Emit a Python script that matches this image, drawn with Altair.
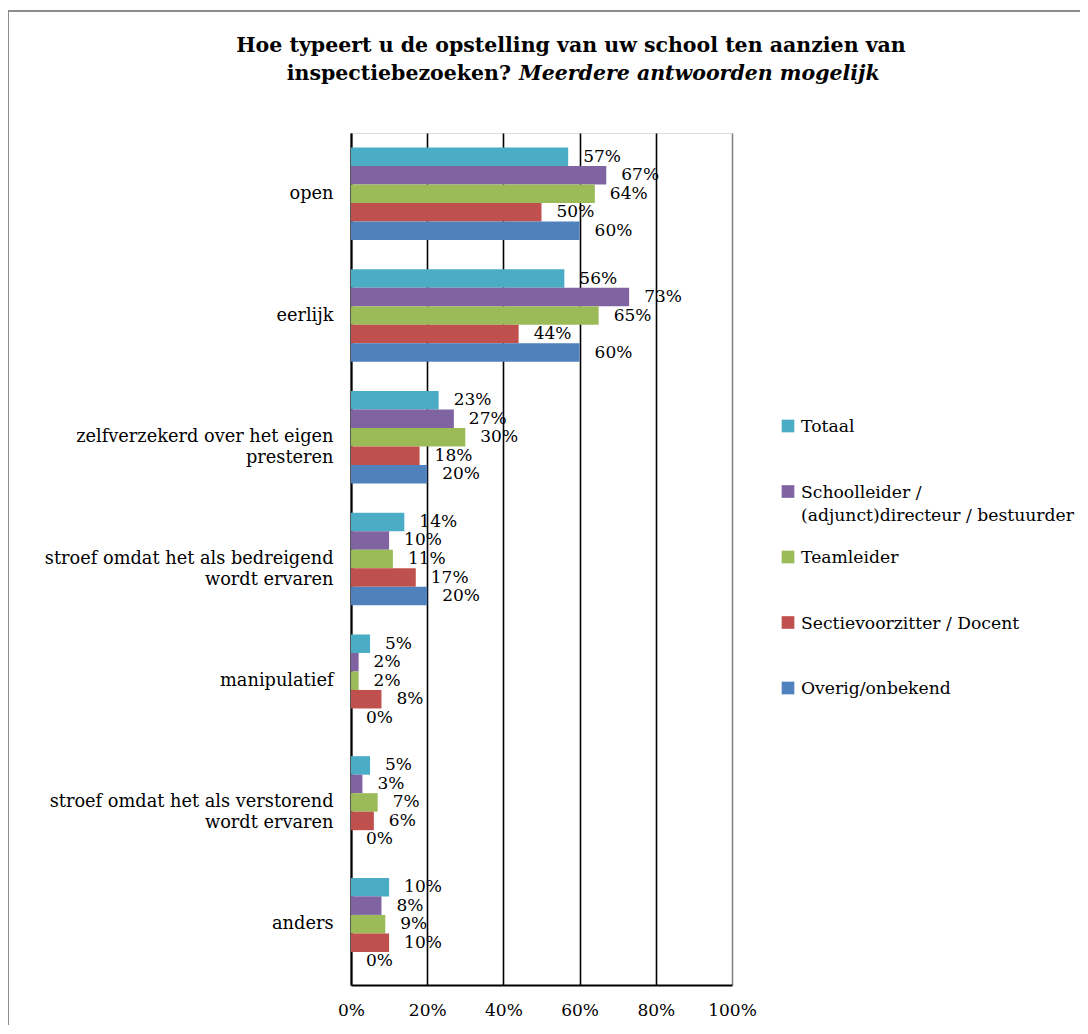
import altair as alt
import pandas as pd

categories = [
    "open",
    "eerlijk",
    "zelfverzekerd over het eigen|presteren",
    "stroef omdat het als bedreigend|wordt ervaren",
    "manipulatief",
    "stroef omdat het als verstorend|wordt ervaren",
    "anders",
]
series = [
    "Totaal",
    "Schoolleider /|(adjunct)directeur / bestuurder",
    "Teamleider",
    "Sectievoorzitter / Docent",
    "Overig/onbekend",
]
colors = ["#4BACC6", "#8064A2", "#9BBB59", "#C0504D", "#4F81BD"]

totaal = [57, 56, 23, 14, 5, 5, 10]
schoolleider = [67, 73, 27, 10, 2, 3, 8]
teamleider = [64, 65, 30, 11, 2, 7, 9]
sectie = [50, 44, 18, 17, 8, 6, 10]
overig = [60, 60, 20, 20, 0, 0, 0]
series_values = [totaal, schoolleider, teamleider, sectie, overig]

x_ticks = [0, 20, 40, 60, 80, 100]

title_line1 = "Hoe typeert u de opstelling van uw school ten aanzien van"
title_line2_bold = "inspectiebezoeken?"
title_line2_italic = "Meerdere antwoorden mogelijk"

rows = []
for s, vals in zip(series, series_values):
    for c, v in zip(categories, vals):
        rows.append({"category": c, "series": s, "value": v, "label": f"{v}%"})
df = pd.DataFrame(rows)
legend_df = pd.DataFrame({"series": series})

FONT = "DejaVu Serif"

base = alt.Chart(df).encode(
    y=alt.Y(
        "category:N",
        sort=categories,
        scale=alt.Scale(paddingInner=0.24, paddingOuter=0.12),
        axis=alt.Axis(
            title=None,
            ticks=False,
            labelExpr="split(datum.label, '|')",
            labelFont=FONT,
            labelFontSize=17.75,
            labelColor="black",
            labelPadding=18,
            labelLimit=400,
            labelLineHeight=21,
            domainColor="black",
            domainWidth=2,
            grid=False,
        ),
    ),
    yOffset=alt.YOffset("series:N", sort=series),
)

color_scale = alt.Scale(domain=series, range=colors)

bars = base.mark_bar().encode(
    x=alt.X(
        "value:Q",
        scale=alt.Scale(domain=[0, 100]),
        axis=alt.Axis(
            title=None,
            values=x_ticks,
            labelExpr="datum.value + '%'",
            labelFont=FONT,
            labelFontSize=17,
            labelColor="black",
            labelPadding=17,
            labelFlush=False,
            ticks=False,
            domainColor="black",
            domainWidth=2,
            grid=True,
            gridColor={"condition": {"test": "datum.value === 100", "value": "#868686"}, "value": "black"},
            gridWidth=1.6,
        ),
    ),
    color=alt.Color("series:N", sort=series, scale=color_scale, legend=None),
)

labels = base.mark_text(align="left", baseline="middle", dx=15, font=FONT, fontSize=17, color="black").encode(
    x=alt.X("value:Q"),
    text=alt.Text("label:N"),
)

main = alt.layer(bars, labels)

# legend drawn as marks
leg_y = alt.Y(
    "series:N",
    sort=series,
    scale=alt.Scale(type="point", domain=series, range=[293, 555], padding=0),
    axis=None,
)
leg_sym = alt.Chart(legend_df).mark_square(size=160, opacity=1).encode(
    x=alt.value(437),
    y=leg_y,
    color=alt.Color("series:N", sort=series, scale=color_scale, legend=None),
)
leg_txt = (
    alt.Chart(legend_df)
    .transform_calculate(lines="split(datum.series, '|')")
    .mark_text(align="left", baseline="alphabetic", dy=6, font=FONT, fontSize=17.2, color="black", lineHeight=23)
    .encode(x=alt.value(450), y=leg_y, text=alt.Text("lines:N"))
)
legend = alt.layer(leg_sym, leg_txt)

# title drawn as marks (mixed bold / bold-italic)
TITLE_SIZE = 20.5
title_df = pd.DataFrame({"t1": [title_line1], "t2": [title_line2_bold], "t3": [title_line2_italic]})
t1 = alt.Chart(title_df).mark_text(
    align="center", baseline="alphabetic", font=FONT, fontSize=TITLE_SIZE, fontWeight="bold", color="black"
).encode(x=alt.value(220), y=alt.value(-81), text="t1:N")
t2 = alt.Chart(title_df).mark_text(
    align="right", baseline="alphabetic", font=FONT, fontSize=TITLE_SIZE, fontWeight="bold", color="black"
).encode(x=alt.value(160), y=alt.value(-53), text="t2:N")
t3 = alt.Chart(title_df).mark_text(
    align="left", baseline="alphabetic", font=FONT, fontSize=TITLE_SIZE, fontWeight="bold", fontStyle="italic", color="black"
).encode(x=alt.value(168), y=alt.value(-53), text="t3:N")

frame = alt.Chart(pd.DataFrame({"f": [0]})).mark_rect(
    fill=None, stroke="#8c8c8c", strokeWidth=2
).encode(
    x=alt.value(-343), x2=alt.value(2000), y=alt.value(-122), y2=alt.value(2000)
)

chart = (
    alt.layer(frame, main, legend, t1, t2, t3)
    .resolve_scale(y="independent")
    .properties(
        width=381,
        height=852,
        autosize=alt.AutoSizeParams(type="none"),
        padding={"left": 343, "top": 125, "right": 348, "bottom": 40},
    )
    .configure_view(stroke="#868686", strokeWidth=2)
    .configure(background="white")
)

chart.save("out.html", embed_options={"renderer": "svg", "actions": False})
